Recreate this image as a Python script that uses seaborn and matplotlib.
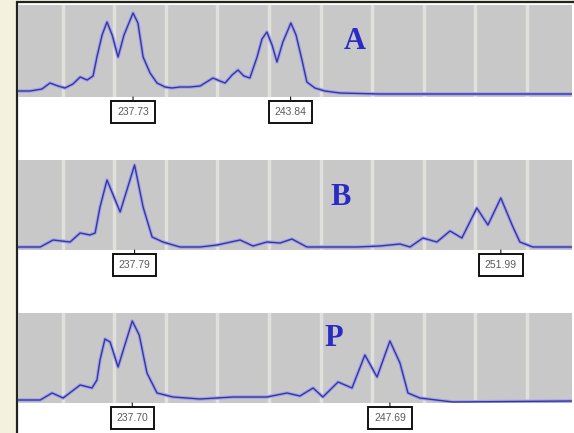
import seaborn as sns
import matplotlib.pyplot as plt
from matplotlib.patches import Rectangle

sns.set_theme(style="white")

# fragment sizes (bp) and signal heights
a_size = [233.27, 233.74, 234.20, 234.51, 234.82, 235.09, 235.40, 235.68, 235.95, 236.18,
          236.33, 236.53, 236.72, 236.92, 237.15, 237.38, 237.73, 237.92, 238.12, 238.39,
          238.66, 238.97, 239.24, 239.55, 239.94, 240.33, 240.83, 241.10, 241.30, 241.57,
          241.80, 242.03, 242.26, 242.54, 242.73, 242.92, 243.12, 243.31, 243.54, 243.85,
          244.05, 244.28, 244.47, 244.78, 245.17, 245.75, 247.30, 250.02, 254.75]
a_signal = [6, 6, 8, 14, 11, 9, 13, 20, 17, 21,
            40, 62, 75, 62, 40, 62, 84, 74, 40, 24,
            14, 10, 9, 10, 10, 11, 19, 16, 14, 22,
            27, 21, 19, 40, 58, 65, 52, 35, 55, 74,
            62, 37, 15, 9, 6, 4, 3, 3, 3]

b_size = [233.27, 234.13, 234.63, 235.29, 235.68, 236.06, 236.26, 236.45, 236.72, 237.23,
          237.79, 238.12, 238.47, 238.89, 239.55, 240.33, 240.99, 241.88, 242.38, 242.92,
          243.43, 243.89, 244.47, 246.41, 247.30, 248.08, 248.47, 248.97, 249.51, 250.02,
          250.48, 251.06, 251.49, 251.99, 252.46, 252.73, 253.23, 254.75]
b_signal = [3, 3, 10, 8, 17, 15, 17, 43, 70, 38,
            85, 43, 13, 8, 3, 3, 5, 10, 4, 8,
            7, 11, 3, 3, 4, 6, 3, 12, 8, 19,
            12, 42, 25, 52, 23, 8, 3, 3]

p_size = [233.27, 234.13, 234.59, 235.02, 235.68, 236.14, 236.33, 236.45, 236.64, 236.84,
          237.15, 237.70, 237.97, 238.27, 238.66, 239.28, 240.33, 241.61, 242.92, 243.70,
          244.20, 244.71, 245.09, 245.68, 246.22, 246.72, 247.19, 247.69, 248.08, 248.39,
          248.85, 250.13, 254.75]
p_signal = [3, 3, 10, 5, 18, 15, 23, 43, 64, 61,
            36, 82, 68, 30, 10, 6, 4, 6, 6, 10,
            7, 15, 6, 21, 15, 48, 26, 62, 40, 10,
            5, 1, 2]

labels = ["A", "B", "P"]
peak_calls = [[237.73, 243.84], [237.79, 251.99], [237.70, 247.69]]
stripes = list(range(235, 254, 2))

traces = [(a_size, a_signal), (b_size, b_signal), (p_size, p_signal)]

W, H = 574, 433
fig = plt.figure(figsize=(W / 100, H / 100), dpi=100)
fig.patch.set_facecolor("#F4F2DF")

# white frame holding the three panels
fig.patches.append(Rectangle((17 / W, -0.01), 1.0, (433 - 2) / H + 0.01,
                             transform=fig.transFigure, facecolor="white",
                             edgecolor="#222222", lw=1.6, zorder=-5))

# panel rows in pixels: (top, bottom, ymax)
rows = [(5, 97, 92), (160, 250, 90), (313, 403, 90)]
letter_pos = [(0.608, 0.60), (0.583, 0.585), (0.570, 0.715)]

for i, (top, bottom, ymax) in enumerate(rows):
    ax = fig.add_axes([18 / W, (H - bottom) / H, 554 / W, (bottom - top) / H])
    ax.set_facecolor("#C8C8C8")
    for s in stripes:
        ax.axvline(s, color="#E0E0DC", lw=2.5, zorder=1)
    x, y = traces[i]
    sns.lineplot(x=x, y=y, ax=ax, color="#A4A4EC", lw=2.6, estimator=None, zorder=2)
    sns.lineplot(x=x, y=y, ax=ax, color="#36369C", lw=1.0, estimator=None, zorder=3)
    ax.set_xlim(233.27, 254.75)
    ax.set_ylim(0, ymax)
    ax.set_xticks([])
    ax.set_yticks([])
    for sp in ax.spines.values():
        sp.set_visible(False)
    lx, ly = letter_pos[i]
    ax.text(lx, ly, labels[i], transform=ax.transAxes, ha="center", va="center",
            fontsize=22, fontweight="bold", family="Liberation Serif", color="#2A2AC4")
    for pk in peak_calls[i]:
        ax.annotate(f"{pk:.2f}", xy=(pk, 0), xytext=(0, -15), textcoords="offset pixels",
                    ha="center", va="center", fontsize=7.5, color="#5A5A5A",
                    family="Liberation Sans", annotation_clip=False,
                    bbox=dict(boxstyle="square,pad=0.55", facecolor="white",
                              edgecolor="#111111", lw=1.4),
                    arrowprops=dict(arrowstyle="-", color="#111111", lw=0.8,
                                    shrinkA=0, shrinkB=0))

fig.savefig("out.png", dpi=100)
